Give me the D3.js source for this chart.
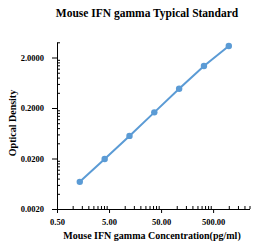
<!DOCTYPE html>
<html>
<head>
<meta charset="utf-8">
<script src="https://cdn.jsdelivr.net/npm/d3@7"></script>
<style>
  body { margin: 0; background: #fff; }
  text { font-family: "Liberation Serif", "Times New Roman", serif; font-weight: bold; }
</style>
</head>
<body>
<div id="chart"></div>
<script>
// standard curve, 1:3 dilutions
var conc = [1.37, 4.12, 12.35, 37.04, 111.11, 333.33, 1000];
var od = [0.0069, 0.0195, 0.056, 0.164, 0.48, 1.36, 3.38];
var xTicks = [0.5, 5, 50, 500];
var yTicks = [0.002, 0.02, 0.2, 2];

var width = 256, height = 243;

var xScale = d3.scaleLog()
    .domain([0.5, 2500])
    .range([57, 249.5]);

var yScale = d3.scaleLog()
    .domain([0.002, 4])
    .range([209, 42.3]);

var chart = d3.select('#chart').append('svg')
    .attr("width", width)
    .attr("height", height);

// minor ticks, excel style: k * major for k = 2..9
function minors(majors, max) {
    var out = [];
    majors.forEach(function(m) {
        for (var k = 2; k <= 9; k++) {
            if (m * k <= max * 1.0001) out.push(m * k);
        }
    });
    return out;
}

var xAxis = d3.axisBottom(xScale)
    .tickValues(xTicks)
    .tickFormat(d3.format(".2f"))
    .tickSize(4)
    .tickPadding(4)
    .tickSizeOuter(0);

var xMinor = d3.axisTop(xScale)
    .tickValues(minors(xTicks, 2500))
    .tickFormat("")
    .tickSize(3)
    .tickSizeOuter(0);

var yAxis = d3.axisLeft(yScale)
    .tickValues(yTicks)
    .tickFormat(d3.format(".4f"))
    .tickSize(5)
    .tickPadding(8)
    .tickSizeOuter(0);

var yMinor = d3.axisRight(yScale)
    .tickValues(minors(yTicks, 4))
    .tickFormat("")
    .tickSize(3)
    .tickSizeOuter(0);

var gx = chart.append("g").attr("transform", "translate(0,209)").call(xAxis);
chart.append("g").attr("transform", "translate(0,209)").call(xMinor);
var gy = chart.append("g").attr("transform", "translate(57,0)").call(yAxis);
chart.append("g").attr("transform", "translate(57,0)").call(yMinor);

chart.selectAll(".domain").attr("stroke", "#000");
chart.selectAll(".tick line").attr("stroke", "#000");
gx.selectAll("text").attr("font-size", 8.5).attr("font-family", "Liberation Serif").attr("font-weight", "bold").attr("dy", "0.9em");
gy.selectAll("text").attr("font-size", 8.5).attr("font-family", "Liberation Serif").attr("font-weight", "bold");

var pts = conc.map(function(c, i) { return { x: c, y: od[i] }; });

var line = d3.line()
    .x(function(d) { return xScale(d.x); })
    .y(function(d) { return yScale(d.y); });

chart.append("path")
    .datum(pts)
    .attr("d", line)
    .attr("fill", "none")
    .attr("stroke", "#5b9bd5")
    .attr("stroke-width", 2);

chart.selectAll("circle")
    .data(pts)
    .enter().append("circle")
    .attr("cx", function(d) { return xScale(d.x); })
    .attr("cy", function(d) { return yScale(d.y); })
    .attr("r", 3.2)
    .attr("fill", "#5b9bd5");

chart.append("text")
    .attr("x", 147)
    .attr("y", 17)
    .attr("text-anchor", "middle")
    .attr("font-size", 11.5)
    .text("Mouse IFN gamma Typical Standard");

chart.append("text")
    .attr("x", 152)
    .attr("y", 239)
    .attr("text-anchor", "middle")
    .attr("font-size", 10)
    .text("Mouse IFN gamma Concentration(pg/ml)");

chart.append("text")
    .attr("transform", "translate(16,123) rotate(-90)")
    .attr("text-anchor", "middle")
    .attr("font-size", 10)
    .text("Optical Density");
</script>
</body>
</html>
